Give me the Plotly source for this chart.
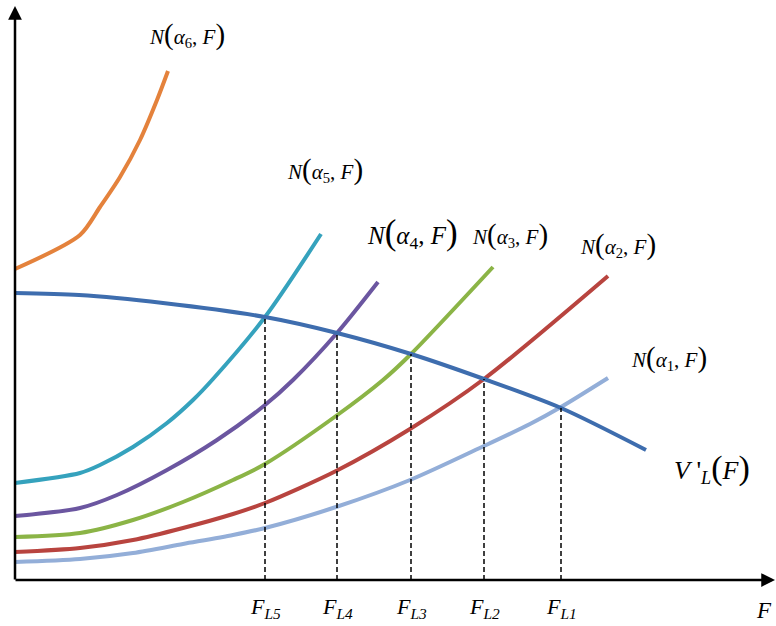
import numpy as np
import plotly.graph_objects as go

# ---- data (chart units: F along x, value along y) ----
F_a6 = [0, 65, 85, 105, 125, 142, 153]
N_a6 = [311, 345, 373, 403, 440, 480, 509]

F_V = [0, 64, 148, 250, 322, 396, 469, 546, 631]
V_L = [287, 285, 277, 263, 247, 226, 201, 172, 130]

F_a5 = [0, 65, 85, 118, 152, 178, 198, 250, 306]
N_a5 = [97, 107, 115, 133, 157, 180, 201, 263, 346]

F_a4 = [0, 65, 102, 152, 202, 250, 278, 322, 363]
N_a4 = [64, 72, 85, 110, 140, 175, 200, 247, 298]

F_a3 = [0, 65, 118, 168, 218, 250, 321, 368, 396, 478]
N_a3 = [43, 47, 60, 78, 100, 116, 164, 200, 226, 313]

F_a2 = [0, 65, 118, 168, 218, 250, 321, 395, 469, 593]
N_a2 = [28, 32, 40, 52, 66, 77, 109, 151, 201, 304]

F_a1 = [0, 65, 118, 168, 218, 250, 321, 395, 469, 515, 546, 593]
N_a1 = [18, 21, 27, 36, 45, 52, 73, 100, 134, 156, 173, 202]

F_L = [250, 322, 396, 469, 546]
F_L_labels = ["L5", "L4", "L3", "L2", "L1"]

FONT = "Liberation Serif, Times New Roman, serif"

fig = go.Figure()

curves = [
    (F_a6, N_a6, "#E4823C"),
    (F_a5, N_a5, "#35A2BD"),
    (F_a4, N_a4, "#6B56A0"),
    (F_a3, N_a3, "#8BB446"),
    (F_a2, N_a2, "#B8443F"),
    (F_a1, N_a1, "#93AED8"),
    (F_V, V_L, "#3E6DAE"),
]
for xs, ys, col in curves:
    fig.add_trace(go.Scatter(x=xs, y=ys, mode="lines",
                             line=dict(color=col, width=4, shape="spline", smoothing=0.8),
                             hoverinfo="skip", showlegend=False))

# dashed drop lines from the intersections to the F axis
V_at = np.interp(F_L, F_V, V_L)
for f, v in zip(F_L, V_at):
    fig.add_trace(go.Scatter(x=[f, f], y=[0, v], mode="lines",
                             line=dict(color="black", width=1.5, dash="5px,3px"),
                             hoverinfo="skip", showlegend=False))

# axes with arrowheads
fig.add_annotation(x=0, y=574, ax=0, ay=-1, xref="x", yref="y", axref="x", ayref="y",
                   showarrow=True, arrowhead=2, arrowsize=1.1, arrowwidth=2.5,
                   arrowcolor="black", text="")
fig.add_annotation(x=760, y=0, ax=-1, ay=0, xref="x", yref="y", axref="x", ayref="y",
                   showarrow=True, arrowhead=2, arrowsize=1.1, arrowwidth=2.5,
                   arrowcolor="black", text="")

def P(s, size):
    return '<span style="font-size:%dpx">%s</span>' % (size, s)

def N_label(i, size):
    ps = int(size * 1.4)
    return f"<i>N</i>{P('(', ps)}<i>α</i><sub>{i}</sub>, <i>F</i>{P(')', ps)}"

labels = [
    (N_label(6, 21), 172, 546, 21),
    (N_label(5, 21), 310, 411, 21),
    (N_label(4, 25), 397, 347, 25),
    (N_label(3, 21), 495, 346, 21),
    (N_label(2, 21), 603, 336, 21),
    (N_label(1, 21), 654, 223, 21),
    ("<i>V</i> '<sub><i>L</i></sub>" + P("(", 34) + "<i>F</i>" + P(")", 34), 697, 112, 26),
]
for t, x, y, s in labels:
    fig.add_annotation(x=x, y=y, text=t, showarrow=False,
                       font=dict(family=FONT, size=s, color="black"))

for f, lab in zip(F_L, F_L_labels):
    fig.add_annotation(x=f, y=-28, text=f"<i>F</i><sub><i>{lab}</i></sub>", showarrow=False,
                       font=dict(family=FONT, size=22, color="black"))
fig.add_annotation(x=749, y=-30, text="<i>F</i>", showarrow=False,
                   font=dict(family=FONT, size=23, color="black"))

fig.update_xaxes(range=[-15, 761], visible=False, fixedrange=True)
fig.update_yaxes(range=[-46, 580], visible=False, fixedrange=True)
fig.update_layout(width=776, height=626, margin=dict(l=0, r=0, t=0, b=0),
                  plot_bgcolor="white", paper_bgcolor="white")

fig.write_html("out.html", config={"displayModeBar": False},
               post_script="document.body.style.margin='0px';document.body.style.overflow='hidden';")
